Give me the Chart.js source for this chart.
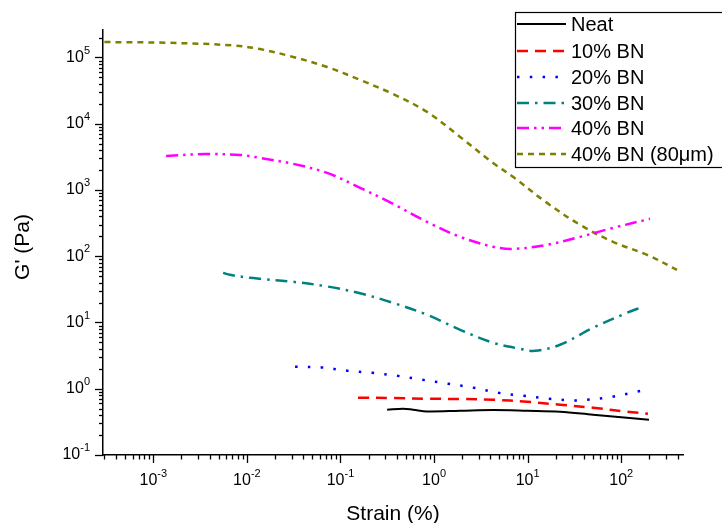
<!DOCTYPE html>
<html><head><meta charset="utf-8">
<script src="https://cdn.jsdelivr.net/npm/chart.js@4.4.0/dist/chart.umd.min.js"></script>
<style>html,body{margin:0;padding:0;background:#fff;}#wrap{width:722px;height:523px;}</style>
</head><body><div id="wrap"><canvas id="c" width="722" height="523"></canvas></div>
<script>
// ---- data ----
const seriesNames = ['Neat', '10% BN', '20% BN', '30% BN', '40% BN', '40% BN (80\u03bcm)'];

const strainNeat = [0.315, 0.467, 0.597, 0.842, 1.90, 4.27, 9.85, 22.2, 50.0, 115, 198];
const gNeat      = [0.482, 0.499, 0.482, 0.455, 0.466, 0.478, 0.466, 0.450, 0.405, 0.365, 0.341];

const strain10 = [0.154, 0.365, 0.842, 1.90, 4.27, 9.85, 22.2, 50.0, 115, 193];
const g10      = [0.732, 0.725, 0.707, 0.700, 0.683, 0.637, 0.574, 0.517, 0.450, 0.420];

const strain20 = [0.0327, 0.0621, 0.118, 0.218, 0.402, 0.745, 1.41, 2.61, 4.83, 8.93, 16.9, 31.3, 43.1, 79.8, 147, 198];
const g20      = [2.15, 2.10, 1.87, 1.74, 1.57, 1.37, 1.19, 1.04, 0.870, 0.784, 0.707, 0.665, 0.680, 0.757, 0.901, 1.0];

const strain30 = [0.00557, 0.00662, 0.0108, 0.0138, 0.0312, 0.0719, 0.162, 0.365, 0.842, 1.90, 4.27, 8.29, 12.0, 22.2, 50.0, 115, 171];
const g30      = [56.2, 52.4, 47.2, 45.6, 41.1, 35.0, 27.6, 19.8, 13.1, 7.76, 4.94, 4.01, 3.74, 4.61, 8.32, 14.0, 17.3];

const strain40 = [0.00137, 0.00357, 0.00846, 0.0138, 0.0312, 0.0719, 0.162, 0.365, 0.842, 1.90, 4.27, 6.98, 16.1, 36.3, 81.7, 203];
const g40      = [3270, 3480, 3380, 3050, 2480, 1810, 1080, 617, 330, 196, 139, 129, 149, 196, 268, 367];

const strain40b = [0.0003, 0.0014, 0.00712, 0.0138, 0.0312, 0.0719, 0.162, 0.365, 0.842, 1.90, 4.27, 6.98, 16.1, 36.3, 81.7, 189, 394];
const g40b      = [171000, 167000, 152000, 134000, 102000, 71900, 45800, 28100, 15100, 6320, 2560, 1580, 639, 298, 165, 105, 62.4];

const xTickExponents = [-3, -2, -1, 0, 1, 2];
const yTickExponents = [-1, 0, 1, 2, 3, 4, 5];
const xAxisTitle = 'Strain (%)';
const yAxisTitle = "G' (Pa)";

// ---- styles ----
const FONT = "'Liberation Sans', Arial, Helvetica, sans-serif";
const styles = [
  {color: '#000000', dash: [], width: 2},
  {color: '#ff0000', dash: [11, 7], width: 2.5},
  {color: '#0000ff', dash: [2.5, 10.3], width: 2.5},
  {color: '#008080', dash: [12, 6, 2.5, 6], width: 2.5},
  {color: '#ff00ff', dash: [12, 5, 2.5, 5, 2.5, 5], width: 2.5},
  {color: '#808000', dash: [6, 5], width: 2.5}
];
const xs = [strainNeat, strain10, strain20, strain30, strain40, strain40b];
const ys = [gNeat, g10, g20, g30, g40, g40b];

const datasets = seriesNames.map((name, i) => ({
  label: name,
  data: xs[i].map((x, j) => ({x: x, y: ys[i][j]})),
  showLine: true,
  borderColor: styles[i].color,
  backgroundColor: styles[i].color,
  borderWidth: styles[i].width,
  borderDash: styles[i].dash,
  pointRadius: 0,
  tension: 0.35,
  fill: false
}));

function drawPow(ctx, exp, x, y, align) {
  ctx.font = '16px ' + FONT;
  const wBase = ctx.measureText('10').width;
  ctx.font = '11px ' + FONT;
  const eStr = String(exp);
  const wExp = ctx.measureText(eStr).width;
  const total = wBase + wExp;
  const x0 = align === 'center' ? x - total / 2 : x - total;
  ctx.fillStyle = '#000';
  ctx.textAlign = 'left';
  ctx.textBaseline = 'middle';
  ctx.font = '16px ' + FONT;
  ctx.fillText('10', x0, y);
  ctx.font = '11px ' + FONT;
  ctx.fillText(eStr, x0 + wBase, y - 7);
}

const axesPlugin = {
  id: 'axesDecor',
  afterDraw(chart) {
    const ctx = chart.ctx;
    const xS = chart.scales.x, yS = chart.scales.y;
    const area = chart.chartArea;
    ctx.save();
    ctx.strokeStyle = '#000';
    ctx.lineWidth = 1.3;
    for (let d = -4; d <= 3; d++) {
      for (let m = 1; m <= 9; m++) {
        const v = m * Math.pow(10, d);
        if (v < xS.min * 0.999 || v > xS.max) continue;
        const px = Math.round(xS.getPixelForValue(v)) + 0.5;
        const len = m === 1 ? 8 : 4.5;
        ctx.beginPath(); ctx.moveTo(px, area.bottom); ctx.lineTo(px, area.bottom + len); ctx.stroke();
      }
    }
    for (let d = -2; d <= 6; d++) {
      for (let m = 1; m <= 9; m++) {
        const v = m * Math.pow(10, d);
        if (v < yS.min * 0.999 || v > yS.max) continue;
        const py = Math.round(yS.getPixelForValue(v)) + 0.5;
        const len = m === 1 ? 8 : 4;
        ctx.beginPath(); ctx.moveTo(area.left, py); ctx.lineTo(area.left - len, py); ctx.stroke();
      }
    }
    xTickExponents.forEach(e => drawPow(ctx, e, xS.getPixelForValue(Math.pow(10, e)), area.bottom + 26, 'center'));
    yTickExponents.forEach(e => drawPow(ctx, e, area.left - 13, yS.getPixelForValue(Math.pow(10, e)), 'right'));
    ctx.fillStyle = '#000';
    ctx.font = '21px ' + FONT;
    ctx.textAlign = 'center';
    ctx.textBaseline = 'alphabetic';
    ctx.fillText(xAxisTitle, (area.left + area.right) / 2, 520);
    ctx.save();
    ctx.translate(29, 247);
    ctx.rotate(-Math.PI / 2);
    ctx.fillText(yAxisTitle, 0, 0);
    ctx.restore();
    // legend
    const lx = 515.5, ly = 12.5, lw = 212, lh = 155;
    ctx.fillStyle = '#fff';
    ctx.fillRect(lx, ly, lw, lh);
    ctx.strokeStyle = '#000';
    ctx.lineWidth = 1.2;
    ctx.setLineDash([]);
    ctx.strokeRect(lx, ly, lw, lh);
    const rowY = [24, 51, 77, 103, 128, 154];
    chart.data.datasets.forEach((ds, i) => {
      const y = rowY[i];
      ctx.strokeStyle = ds.borderColor;
      ctx.lineWidth = ds.borderWidth;
      ctx.setLineDash(ds.borderDash);
      ctx.beginPath(); ctx.moveTo(517, y); ctx.lineTo(566, y); ctx.stroke();
      ctx.setLineDash([]);
      ctx.fillStyle = '#000';
      ctx.font = '20px ' + FONT;
      ctx.textAlign = 'left';
      ctx.textBaseline = 'middle';
      ctx.fillText(ds.label, 571, y + 1);
    });
    ctx.restore();
  }
};

new Chart(document.getElementById('c'), {
  type: 'scatter',
  data: {datasets},
  options: {
    responsive: false,
    animation: false,
    devicePixelRatio: 1,
    layout: {padding: {top: 30, right: 39, left: 0, bottom: 0}},
    plugins: {legend: {display: false}, tooltip: {enabled: false}},
    scales: {
      x: {
        type: 'logarithmic', min: 2.9e-4, max: 457,
        ticks: {display: false},
        grid: {display: false},
        border: {display: true, color: '#000', width: 1.5},
        afterFit(s) { s.height = 68; }
      },
      y: {
        type: 'logarithmic', min: 0.1, max: 2.6e5,
        ticks: {display: false},
        grid: {display: false},
        border: {display: true, color: '#000', width: 1.5},
        afterFit(s) { s.width = 103; }
      }
    }
  },
  plugins: [axesPlugin]
});
</script>
</body></html>
